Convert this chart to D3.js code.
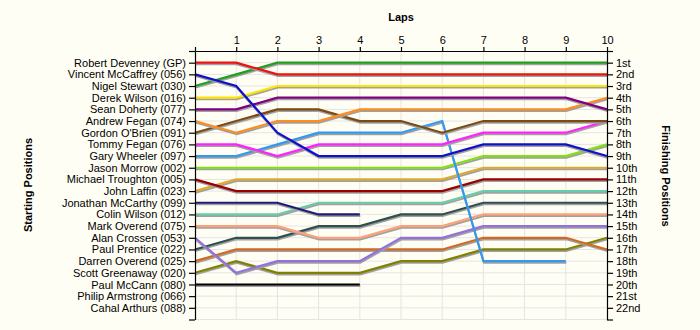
<!DOCTYPE html>
<html>
<head>
<meta charset="utf-8">
<script src="https://cdn.jsdelivr.net/npm/d3@7"></script>
<style>
  body { margin: 0; background: #fffef5; }
  svg { display: block; }
  .lbl { font-family: "Liberation Sans", Arial, sans-serif; font-size: 11px; fill: #000; }
  .title { font-family: "Liberation Sans", Arial, sans-serif; font-size: 11px; font-weight: bold; fill: #000; }
</style>
</head>
<body>
<script>
// starting grid, in order of starting position
const drivers = [
  "Robert Devenney (GP)", "Vincent McCaffrey (056)", "Nigel Stewart (030)",
  "Derek Wilson (016)", "Sean Doherty (077)", "Andrew Fegan (074)",
  "Gordon O'Brien (091)", "Tommy Fegan (076)", "Gary Wheeler (097)",
  "Jason Morrow (002)", "Michael Troughton (005)", "John Laffin (023)",
  "Jonathan McCarthy (099)", "Colin Wilson (012)", "Mark Overend (075)",
  "Alan Crossen (053)", "Paul Prentice (022)", "Darren Overend (025)",
  "Scott Greenaway (020)", "Paul McCann (080)", "Philip Armstrong (066)",
  "Cahal Arthurs (088)"
];

// position at end of each lap (index 0 = grid)
const positions = [
  [1, 1, 2, 2, 2, 2, 2, 2, 2, 2, 2],
  [2, 3, 7, 9, 9, 9, 9, 8, 8, 8, 9],
  [3, 2, 1, 1, 1, 1, 1, 1, 1, 1, 1],
  [4, 4, 3, 3, 3, 3, 3, 3, 3, 3, 3],
  [5, 5, 4, 4, 4, 4, 4, 4, 4, 4, 5],
  [6, 7, 6, 6, 5, 5, 5, 5, 5, 5, 4],
  [7, 6, 5, 5, 6, 6, 7, 6, 6, 6, 6],
  [8, 8, 9, 8, 8, 8, 8, 7, 7, 7, 6],
  [9, 9, 8, 7, 7, 7, 6, 18, 18, 18],
  [10, 10, 10, 10, 10, 10, 10, 9, 9, 9, 8],
  [11, 12, 12, 12, 12, 12, 12, 11, 11, 11, 11],
  [12, 11, 11, 11, 11, 11, 11, 10, 10, 10, 10],
  [13, 13, 13, 14, 14],
  [14, 14, 14, 13, 13, 13, 13, 12, 12, 12, 12],
  [15, 15, 15, 16, 16, 15, 15, 14, 14, 14, 14],
  [16, 19, 18, 18, 18, 16, 16, 15, 15, 15, 15],
  [17, 16, 16, 15, 15, 14, 14, 13, 13, 13, 13],
  [18, 17, 17, 17, 17, 17, 17, 16, 16, 16, 17],
  [19, 18, 19, 19, 19, 18, 18, 17, 17, 17, 16],
  [20, 20, 20, 20, 20],
  [],
  []
];

const colors = [
  "#ee1111", "#1010cc", "#1f9e1f", "#ffe400", "#800080", "#ff8c1e",
  "#7b4a12", "#ff22ff", "#3399ee", "#80e010", "#990000", "#deaa30",
  "#1c1c78", "#66ccaa", "#ffa07a", "#9370db", "#2f4f4f", "#d2691e",
  "#808000", "#000000", "#000000", "#000000"
];

const laps = d3.range(0, 11);
const finishLabels = [
  "1st", "2nd", "3rd", "4th", "5th", "6th", "7th", "8th", "9th", "10th", "11th",
  "12th", "13th", "14th", "15th", "16th", "17th", "18th", "19th", "20th", "21st", "22nd"
];

const width = 700, height = 330;
const plot = { left: 195, right: 607, top: 51, bottom: 319.5 };

const svg = d3.select("body").append("svg")
  .attr("width", width)
  .attr("height", height);

svg.append("rect").attr("width", width).attr("height", height).attr("fill", "#fffef5");

const xScale = d3.scaleLinear([0, 10], [plot.left, plot.right]);
const yScale = d3.scaleLinear([0, 23], [plot.top, plot.bottom]);

// grid
svg.append("g")
  .selectAll("line.v")
  .data(laps.slice(1, 10))
  .join("line")
  .attr("x1", d => xScale(d)).attr("x2", d => xScale(d))
  .attr("y1", plot.top).attr("y2", plot.bottom)
  .attr("stroke", "#e4e4e4");

svg.append("g")
  .selectAll("line.h")
  .data(d3.range(1, 24))
  .join("line")
  .attr("x1", plot.left).attr("x2", plot.right)
  .attr("y1", d => yScale(d)).attr("y2", d => yScale(d))
  .attr("stroke", "#e4e4e4");

// lap lines, last starter drawn first
let line = d3.line()
  .x((d, i) => xScale(i))
  .y(d => yScale(d));

for (let i = drivers.length - 1; i >= 0; i--) {
  const data = positions[i];
  if (data.length < 2) continue;
  const g = svg.append("g");
  g.append("path")
    .datum(data)
    .attr("fill", "none")
    .attr("stroke", "#a0a0a0")
    .attr("stroke-width", 2)
    .attr("transform", "translate(0.5,1.6)")
    .attr("d", line);
  g.append("path")
    .datum(data)
    .attr("fill", "none")
    .attr("stroke", colors[i])
    .attr("stroke-width", 2.2)
    .attr("d", line);
}

// axes
const topAxis = d3.axisTop(xScale)
  .tickValues(laps)
  .tickFormat(d => d === 0 ? "" : d)
  .tickSize(4)
  .tickSizeOuter(0);

const leftAxis = d3.axisLeft(yScale)
  .tickValues(d3.range(0, 24))
  .tickFormat(d => drivers[d - 1] || "")
  .tickSize(6)
  .tickSizeOuter(0);

const rightAxis = d3.axisRight(yScale)
  .tickValues(d3.range(0, 24))
  .tickFormat(d => finishLabels[d - 1] || "")
  .tickSize(6)
  .tickSizeOuter(0);

svg.append("g").attr("transform", `translate(0,${plot.top})`).call(topAxis);
svg.append("g").attr("transform", `translate(${plot.left},0)`).call(leftAxis);
svg.append("g").attr("transform", `translate(${plot.right},0)`).call(rightAxis);

svg.selectAll(".tick text").attr("class", "lbl").attr("font-size", null).attr("font-family", null);
svg.selectAll(".domain, .tick line").attr("stroke", "#000").attr("stroke-width", 1.2);

// titles
svg.append("text")
  .attr("class", "title")
  .attr("text-anchor", "middle")
  .attr("x", (plot.left + plot.right) / 2)
  .attr("y", 21)
  .text("Laps");

svg.append("text")
  .attr("class", "title")
  .attr("text-anchor", "middle")
  .attr("transform", "translate(32,185) rotate(-90)")
  .text("Starting Positions");

svg.append("text")
  .attr("class", "title")
  .attr("text-anchor", "middle")
  .attr("transform", "translate(662,176) rotate(90)")
  .text("Finishing Positions");
</script>
</body>
</html>
